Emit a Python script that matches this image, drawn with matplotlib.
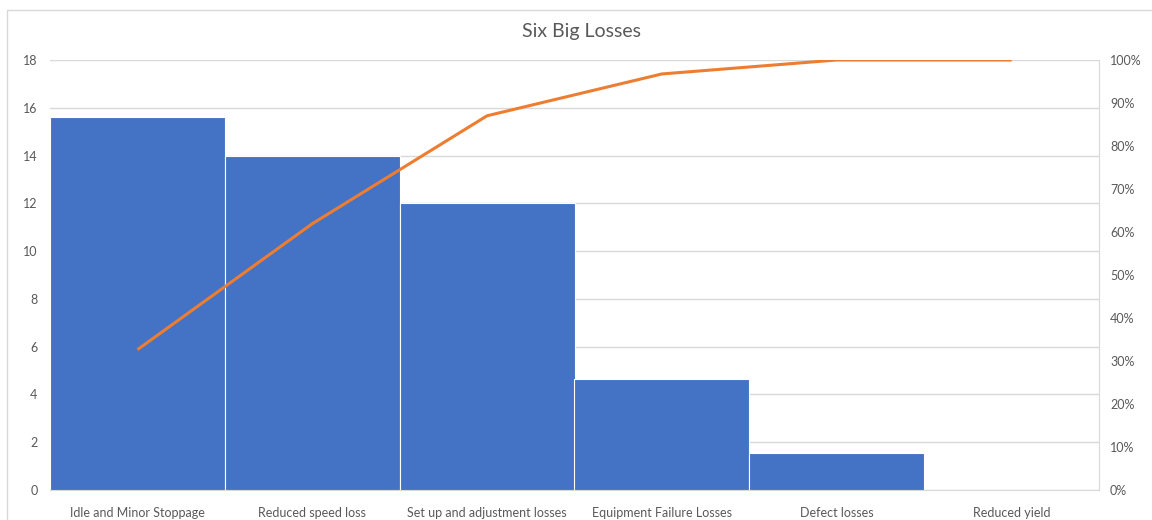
import matplotlib
matplotlib.use("Agg")
import matplotlib.pyplot as plt
from matplotlib.patches import Rectangle
from matplotlib.ticker import PercentFormatter
import numpy as np

categories = ["Idle and Minor Stoppage", "Reduced speed loss", "Set up and adjustment losses",
              "Equipment Failure Losses", "Defect losses", "Reduced yield"]
values = [15.6, 14.0, 12.0, 4.65, 1.55, 0.0]
left_ticks = [0, 2, 4, 6, 8, 10, 12, 14, 16, 18]
right_ticks = [0, 10, 20, 30, 40, 50, 60, 70, 80, 90, 100]

plt.rcParams['font.family'] = ['Lato', 'DejaVu Sans']

W, H = 1152, 520
fig = plt.figure(figsize=(W / 100, H / 100), dpi=100)
fig.patch.set_facecolor("white")

# outer chart border (cropped at right and bottom)
fig.add_artist(Rectangle((7 / W, -0.1), 1.2, 1 - 10 / H + 0.1, transform=fig.transFigure,
                         fill=False, edgecolor="#d9d9d9", linewidth=1))

ax = fig.add_axes([50 / W, 1 - 490 / H, (1099 - 50) / W, (490 - 60) / H])
x = np.arange(len(categories))
ax.bar(x, values, width=1.0, color="#4472C4", edgecolor="white", linewidth=0.8, zorder=3)
ax.set_xlim(-0.5, len(categories) - 0.5)
ax.set_ylim(0, 18)
ax.set_yticks(left_ticks)
ax.set_xticks(x)
ax.set_xticklabels(categories)
ax.grid(axis="y", color="#d9d9d9", linewidth=1, zorder=0)
ax.set_axisbelow(True)
for s in ["top", "left"]:
    ax.spines[s].set_visible(False)
ax.spines["bottom"].set_color("#d9d9d9")
ax.spines["right"].set_color("#d9d9d9")
ax.tick_params(axis="both", length=0, labelsize=9, colors="#595959")
ax.tick_params(axis="x", pad=12)
ax.tick_params(axis="y", pad=9)

ax2 = ax.twinx()
total = sum(values)
cum = np.cumsum(values) / total * 100
ax2.plot(x, cum, color="#ED7D31", linewidth=2.2, zorder=5, solid_capstyle="butt")
ax2.set_ylim(0, 100)
ax2.set_yticks(right_ticks)
ax2.yaxis.set_major_formatter(PercentFormatter(decimals=0))
for s in ["top", "left", "bottom", "right"]:
    ax2.spines[s].set_visible(False)
ax2.tick_params(axis="y", length=0, labelsize=9, colors="#595959", pad=8)

fig.text(582 / W, 1 - 32 / H, "Six Big Losses", ha="center", va="center",
         fontsize=14, color="#595959")

fig.savefig("out.png", dpi=100)
